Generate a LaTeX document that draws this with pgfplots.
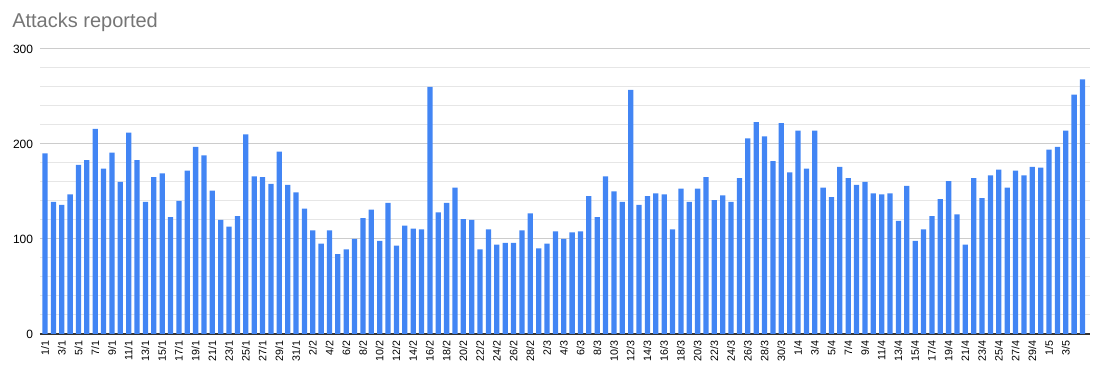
\documentclass[border=0pt]{standalone}
\usepackage{fontspec}
\setmainfont{Liberation Sans}
\usepackage{pgfplots}
\usepackage{pgfplotstable}
\pgfplotsset{compat=1.18}
\definecolor{barblue}{HTML}{4285F4}
\definecolor{titlegray}{HTML}{757575}
\definecolor{majgrid}{HTML}{CCCCCC}
\definecolor{mingrid}{HTML}{E6E6E6}
\pgfplotstableread{
y
190
139
136
147
178
183
216
174
191
160
212
183
139
165
169
123
140
172
197
188
151
120
113
124
210
166
165
158
192
157
149
132
109
95
109
84
89
100
122
131
98
138
93
114
111
110
260
128
138
154
121
120
89
110
94
96
96
109
127
90
95
108
100
107
108
145
123
166
150
139
257
136
145
148
147
110
153
139
153
165
141
146
139
164
206
223
208
182
222
170
214
174
214
154
144
176
164
157
160
148
147
148
119
156
98
110
124
142
161
126
94
164
143
167
173
154
172
167
176
175
194
197
214
252
268
}\attacks
\begin{document}
\begin{tikzpicture}
\begin{axis}[
  scale only axis,
  width=787.5pt, height=213.75pt,
  xmin=-0.6, xmax=124.9, ymin=0, ymax=300,
  ytick={0,100,200,300}, minor y tick num=4,
  ymajorgrids, yminorgrids,
  major grid style={majgrid, line width=0.75pt},
  minor grid style={mingrid, line width=0.75pt},
  axis lines*=left,
  y axis line style={draw=none},
  x axis line style={draw=black!80, line width=0.9pt},
  major tick length=0pt, minor tick length=0pt,
  xtick={0,2,...,122},
  xticklabels={1/1,3/1,5/1,7/1,9/1,11/1,13/1,15/1,17/1,19/1,21/1,23/1,25/1,27/1,29/1,31/1,
    2/2,4/2,6/2,8/2,10/2,12/2,14/2,16/2,18/2,20/2,22/2,24/2,26/2,28/2,
    2/3,4/3,6/3,8/3,10/3,12/3,14/3,16/3,18/3,20/3,22/3,24/3,26/3,28/3,30/3,
    1/4,3/4,5/4,7/4,9/4,11/4,13/4,15/4,17/4,19/4,21/4,23/4,25/4,27/4,29/4,
    1/5,3/5},
  x tick label style={yshift=-4.5pt, rotate=90, anchor=east, font=\fontsize{8}{9}\selectfont, inner sep=0pt},
  y tick label style={font=\fontsize{9}{10}\selectfont, inner sep=0pt, xshift=-5pt},
  /pgf/number format/assume math mode=true,
]
\addplot[ybar, bar width=0.63, fill=barblue, draw=none] table[x expr=\coordindex, y=y]{\attacks};
\end{axis}
\node[anchor=north west, text=titlegray, font=\fontsize{15}{18}\selectfont, inner sep=0pt] at ([xshift=-21pt, yshift=27pt]current axis.north west) {Attacks reported};
\pgfresetboundingbox
\path[use as bounding box] ([xshift=-30pt,yshift=-29.25pt]current axis.south west) rectangle ([xshift=6pt,yshift=36.75pt]current axis.north east);
\end{tikzpicture}
\end{document}
